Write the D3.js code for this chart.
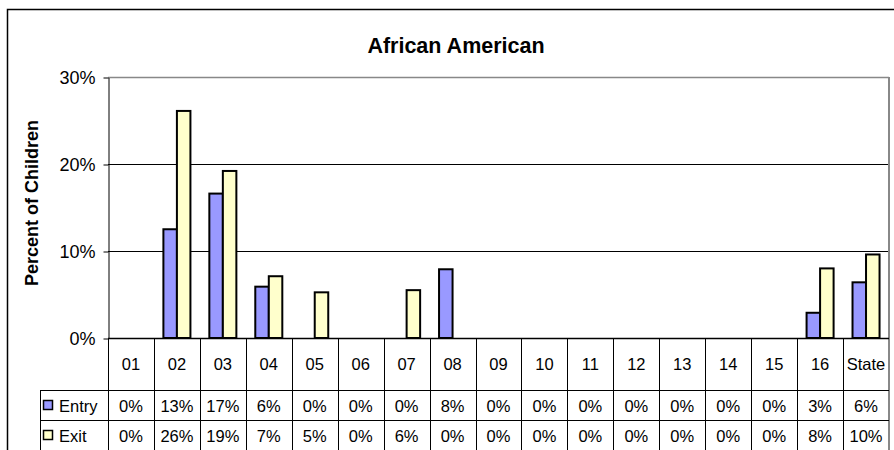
<!DOCTYPE html>
<html><head><meta charset="utf-8">
<script src="https://cdn.jsdelivr.net/npm/d3@7"></script>
<style>body{margin:0;background:#fff}svg{display:block;font-family:"Liberation Sans",Arial,sans-serif}</style>
</head><body><svg id="c" width="894" height="450"></svg>
<script>
const categories = ["01","02","03","04","05","06","07","08","09","10","11","12","13","14","15","16","State"];
const entryValues = [0,12.5,16.6,5.9,0,0,0,7.9,0,0,0,0,0,0,0,2.9,6.4];
const exitValues = [0,26.1,19.2,7.1,5.25,0,5.5,0,0,0,0,0,0,0,0,8.0,9.6];
const entryLabels = ["0%","13%","17%","6%","0%","0%","0%","8%","0%","0%","0%","0%","0%","0%","0%","3%","6%"];
const exitLabels = ["0%","26%","19%","7%","5%","0%","6%","0%","0%","0%","0%","0%","0%","0%","0%","8%","10%"];
const seriesNames = ["Entry","Exit"];
const seriesColors = ["#9999FF","#FFFFCC"];
const yTicks = [0,10,20,30];

const svg = d3.select("#c");
const L=108, R=889, T=77, B=338;
const x = d3.scaleBand().domain(categories).range([L,R]).paddingInner(0).paddingOuter(0);
const xs = d3.scaleBand().domain(seriesNames).range([0,x.bandwidth()]).paddingInner(0).paddingOuter(0.70);
const y = d3.scaleLinear().domain([0,30]).range([B,T]);

// outer border
svg.append("path").attr("d",`M7.5,460V9.5H900`).attr("fill","none").attr("stroke","#000").attr("stroke-width",1.5);

// title
svg.append("text").attr("x",456).attr("y",53).attr("text-anchor","middle").attr("font-size",21.5).attr("font-weight","bold").text("African American");

// gridlines
svg.append("g").selectAll("line").data(yTicks.filter(d=>d>0&&d<30)).join("line")
  .attr("x1",L).attr("x2",R).attr("y1",d=>y(d)+0.5).attr("y2",d=>y(d)+0.5).attr("stroke","#000").attr("stroke-width",1);
svg.append("line").attr("x1",L).attr("x2",R).attr("y1",T+0.5).attr("y2",T+0.5).attr("stroke","#888").attr("stroke-width",1.5);
svg.append("line").attr("x1",R).attr("x2",R).attr("y1",T).attr("y2",460).attr("stroke","#888").attr("stroke-width",2);

// y axis
const yAxis = d3.axisLeft(y).tickValues(yTicks).tickFormat(d=>d+"%").tickSize(5).tickSizeOuter(0).tickPadding(8);
const ga = svg.append("g").attr("transform",`translate(${L+0.5},0.5)`).call(yAxis);
ga.select(".domain").attr("stroke","#000");
ga.selectAll(".tick line").attr("stroke","#000");
ga.selectAll("text").attr("font-size",18).attr("fill","#000").attr("font-family","Liberation Sans, Arial, sans-serif");

svg.append("text").attr("transform","translate(38,203) rotate(-90)").attr("text-anchor","middle").attr("font-size",18).attr("font-weight","bold").text("Percent of Children");

// bars
const data = categories.map((c,i)=>({c, vals:[entryValues[i],exitValues[i]]}));
const gb = svg.append("g");
data.forEach(d=>{
  d.vals.forEach((v,j)=>{
    if(v<=0) return;
    gb.append("rect").attr("x",x(d.c)+xs(seriesNames[j])).attr("y",y(v)).attr("width",xs.bandwidth()).attr("height",B-y(v))
      .attr("fill",seriesColors[j]).attr("stroke","#000").attr("stroke-width",2);
  });
});

// x baseline
svg.append("line").attr("x1",L).attr("x2",R).attr("y1",B+0.5).attr("y2",B+0.5).attr("stroke","#000").attr("stroke-width",1.5);

// table
const tl = svg.append("g").attr("stroke","#000").attr("stroke-width",1);
categories.forEach(c=>{
  tl.append("line").attr("x1",Math.round(x(c))+0.5).attr("x2",Math.round(x(c))+0.5).attr("y1",B).attr("y2",460);
});
[390,420,450].forEach(yy=>tl.append("line").attr("x1",40).attr("x2",R).attr("y1",yy+0.5).attr("y2",yy+0.5));
tl.append("line").attr("x1",40.5).attr("x2",40.5).attr("y1",390).attr("y2",460);

const tt = svg.append("g").attr("font-size",16.5).attr("text-anchor","middle");
categories.forEach((c,i)=>{
  const cx = x(c)+x.bandwidth()/2;
  tt.append("text").attr("x",cx).attr("y",370).text(c);
  tt.append("text").attr("x",cx).attr("y",412).text(entryLabels[i]);
  tt.append("text").attr("x",cx).attr("y",442).text(exitLabels[i]);
});
seriesNames.forEach((s,j)=>{
  const yy = [390,420][j];
  svg.append("rect").attr("x",43.5).attr("y",yy+10.5).attr("width",9).attr("height",9).attr("fill",seriesColors[j]).attr("stroke","#000").attr("stroke-width",1.5);
  svg.append("text").attr("x",59).attr("y",yy+22).attr("font-size",16.5).text(s);
});
</script></body></html>
